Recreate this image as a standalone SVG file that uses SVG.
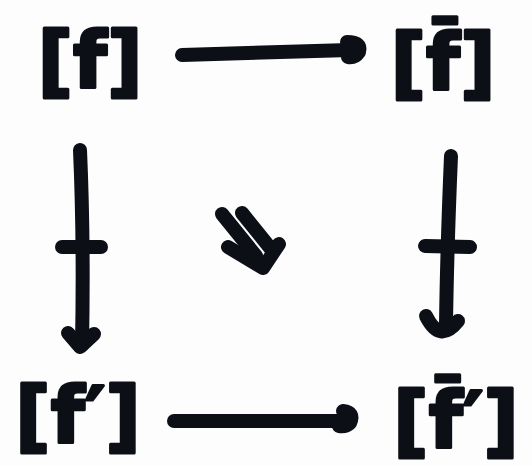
<svg xmlns="http://www.w3.org/2000/svg" width="532" height="466" viewBox="0 0 532 466">
<style>
.lbl{font-family:"DejaVu Sans",sans-serif;font-weight:bold;font-size:78px;fill:#0c0f16;stroke:#0c0f16;stroke-width:3;stroke-linejoin:round;text-anchor:middle}
.ink{fill:none;stroke:#0c0f16;stroke-width:14;stroke-linecap:round;stroke-linejoin:round}
</style>
<rect width="532" height="466" fill="#fdfdfd"/>
<g id="n-f"><text class="lbl" x="90" y="88">[f]</text></g>
<g id="n-fbar"><text class="lbl" x="443" y="90">[f̄]</text></g>
<g id="n-fp"><text class="lbl" x="78" y="443">[f′]</text></g>
<g id="n-fbarp"><text class="lbl" x="456" y="448">[f̄′]</text></g>
<g id="connectors">
<path class="ink" d="M182,55 Q260,53 350,50"/>
<path class="ink" d="M347,42 Q362,42 359,52 Q355,58 348,57"/>
<path class="ink" d="M174,421 L345,421"/>
<path class="ink" d="M343,411 Q355,412 350,423 Q346,427 339,426"/>
<path class="ink" d="M80,150 Q84,240 82,345"/>
<path class="ink" d="M62,247 L101,247"/>
<path class="ink" d="M68,333 L80,347 L94,334"/>
<path class="ink" d="M451,156 Q447,250 446,325"/>
<path class="ink" d="M425,246 L470,247"/>
<path class="ink" d="M426,316 Q440,344 458,321"/>
<path class="ink" d="M222,214 L256,256"/>
<path class="ink" d="M242,213 L271,249"/>
<path class="ink" d="M228,247 L263,268 L279,244"/>
</g>
</svg>
